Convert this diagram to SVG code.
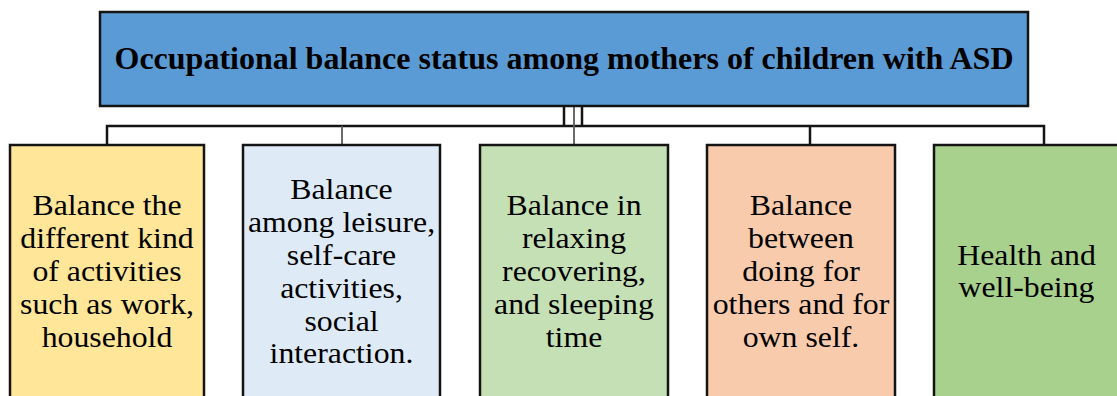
<svg xmlns="http://www.w3.org/2000/svg" width="1117" height="396" viewBox="0 0 1117 396">
<style>
.box{stroke:#141414;stroke-width:2.5}
.conn{stroke:#141414;stroke-width:2.5;fill:none}
.conn-l{stroke:#5a5a5a;stroke-width:1.8;fill:none}
.t{font-family:"Liberation Serif","Times New Roman",serif;font-size:30px;fill:#000;text-anchor:middle}
.title{font-family:"Liberation Serif","Times New Roman",serif;font-size:32px;font-weight:bold;fill:#000;text-anchor:middle}
</style>
<rect width="1117" height="396" fill="#ffffff"/>
<g id="connectors">
<path class="conn" d="M107,145 V126 H1044 V145"/>
<path class="conn" d="M564,106 V126 M582,106 V126"/>
<path class="conn-l" d="M574,106 V145"/>
<path class="conn-l" d="M342,126 V145"/>
<path class="conn" d="M810,126 V145"/>
</g>
<g id="root">
<rect class="box" x="100" y="12" width="928" height="94" fill="#5B9BD5"/>
<text class="title" x="564" y="68.5">Occupational balance status among mothers of children with ASD</text>
</g>
<g id="node1">
<rect class="box" x="10" y="145" width="194" height="260" fill="#FFE699"/>
<g transform="translate(107,0) scale(1.06,1)">
<text class="t" x="0" y="215.5">Balance the</text>
<text class="t" x="0" y="248.3">different kind</text>
<text class="t" x="0" y="281">of activities</text>
<text class="t" x="0" y="313.8">such as work,</text>
<text class="t" x="0" y="346.6">household</text>
</g>
</g>
<g id="node2">
<rect class="box" x="243" y="145" width="197" height="260" fill="#DEEBF7"/>
<g transform="translate(341.5,0) scale(1.06,1)">
<text class="t" x="0" y="199.5">Balance</text>
<text class="t" x="0" y="232.3">among leisure,</text>
<text class="t" x="0" y="265">self-care</text>
<text class="t" x="0" y="297.8">activities,</text>
<text class="t" x="0" y="330.6">social</text>
<text class="t" x="0" y="363.4">interaction.</text>
</g>
</g>
<g id="node3">
<rect class="box" x="480" y="145" width="188" height="260" fill="#C5E0B4"/>
<g transform="translate(574,0) scale(1.06,1)">
<text class="t" x="0" y="215.5">Balance in</text>
<text class="t" x="0" y="248.3">relaxing</text>
<text class="t" x="0" y="281">recovering,</text>
<text class="t" x="0" y="313.8">and sleeping</text>
<text class="t" x="0" y="346.6">time</text>
</g>
</g>
<g id="node4">
<rect class="box" x="707" y="145" width="188" height="260" fill="#F8CBAD"/>
<g transform="translate(801,0) scale(1.06,1)">
<text class="t" x="0" y="215.5">Balance</text>
<text class="t" x="0" y="248.3">between</text>
<text class="t" x="0" y="281">doing for</text>
<text class="t" x="0" y="313.8">others and for</text>
<text class="t" x="0" y="346.6">own self.</text>
</g>
</g>
<g id="node5">
<rect class="box" x="934" y="145" width="190" height="260" fill="#A9D18E"/>
<g transform="translate(1026.5,0) scale(1.06,1)">
<text class="t" x="0" y="265.5">Health and</text>
<text class="t" x="0" y="297.5">well-being</text>
</g>
</g>
</svg>
